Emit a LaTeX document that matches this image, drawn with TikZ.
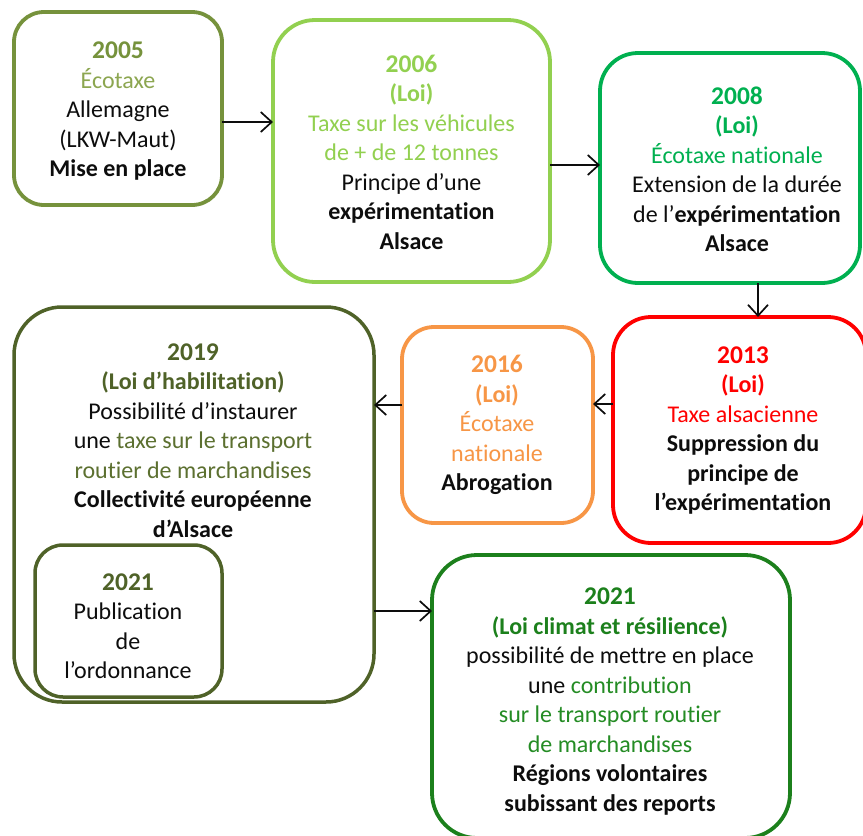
\documentclass[tikz,border=0pt]{standalone}
\usepackage{fontspec}
\setmainfont{Carlito}[Ligatures=NoCommon, RawFeature={-liga;-clig;-dlig;-calt}]
\usetikzlibrary{arrows.meta}
\definecolor{cA}{RGB}{118,146,60}
\definecolor{cAl}{RGB}{140,166,80}
\definecolor{cB}{RGB}{146,208,80}
\definecolor{cC}{RGB}{0,176,80}
\definecolor{cD}{RGB}{255,0,0}
\definecolor{cE}{RGB}{247,150,70}
\definecolor{cF}{RGB}{79,98,40}
\definecolor{cFt}{RGB}{92,112,48}
\definecolor{cG}{RGB}{28,128,28}
\definecolor{cGt}{RGB}{36,140,36}
\definecolor{ink}{RGB}{13,13,13}
\newcommand{\yr}[1]{{\fontsize{25.5}{29.5}\selectfont\bfseries #1}}
\begin{document}
\begin{tikzpicture}[x=1pt,y=-1pt,
  box/.style={draw, line width=3.8pt, inner sep=0pt, outer sep=0pt, fill=none},
  txt/.style={align=center, font=\fontsize{24}{29.5}\selectfont, inner sep=0pt, text=ink},
  arr/.style={line width=1.7pt, draw=ink, -{Straight Barb[length=11pt,width=20pt]}}]
\useasboundingbox (0,0) rectangle (863,836);
\clip (0,0) rectangle (863,836);
\fill[white] (0,0) rectangle (863,836);
% boxes
\node[box, draw=cA, minimum width=208pt, minimum height=193pt, rounded corners=30pt] (b2005) at (118,108.5) {};
\node[box, draw=cB, minimum width=277pt, minimum height=262pt, rounded corners=42pt] (b2006) at (411.5,151) {};
\node[box, draw=cC, minimum width=260pt, minimum height=230pt, rounded corners=38pt] (b2008) at (730,168) {};
\node[box, draw=cD, minimum width=253pt, minimum height=226pt, rounded corners=38pt] (b2013) at (739.5,430) {};
\node[box, draw=cE, minimum width=191pt, minimum height=196pt, rounded corners=32pt] (b2016) at (497.5,425) {};
\node[box, draw=cF, line width=3.5pt, minimum width=360pt, minimum height=395pt, rounded corners=48pt] (b2019) at (194,504.5) {};
\node[box, draw=cF, line width=3.5pt, minimum width=187pt, minimum height=152pt, rounded corners=28pt] (b2021a) at (128.5,621) {};
\node[box, draw=cG, minimum width=358pt, minimum height=283pt, rounded corners=45pt] (b2021b) at (611,696.5) {};
% texts
\node[txt] (t2005) at (118,111.5) {\textcolor{cA}{\yr{2005}}\\ \textcolor{cAl}{Écotaxe}\\ Allemagne\\ (LKW-Maut)\\ \textbf{Mise en place}};
\node[txt] (t2006) at (411.5,152) {\textcolor{cB}{\yr{2006}}\\ \textcolor{cB}{\textbf{(Loi)}}\\ \textcolor{cB}{Taxe sur les véhicules}\\ \textcolor{cB}{de + de 12 tonnes}\\ Principe d’une\\ \textbf{expérimentation}\\ \textbf{Alsace}};
\node[txt] (t2008) at (737,169.5) {\textcolor{cC}{\yr{2008}}\\ \textcolor{cC}{\textbf{(Loi)}}\\ \textcolor{cC}{Écotaxe nationale}\\ Extension de la durée\\ de l’\textbf{expérimentation}\\ \textbf{Alsace}};
\node[txt] (t2013) at (743,430.5) {\textcolor{cD}{\yr{2013}}\\ \textcolor{cD}{\textbf{(Loi)}}\\ \textcolor{cD}{Taxe alsacienne}\\ \textbf{Suppression du}\\ \textbf{principe de}\\ \textbf{l’expérimentation}};
\node[txt] (t2016) at (497,425) {\textcolor{cE}{\yr{2016}}\\ \textcolor{cE}{\textbf{(Loi)}}\\ \textcolor{cE}{Écotaxe}\\ \textcolor{cE}{nationale}\\ \textbf{Abrogation}};
\node[txt] (t2019) at (193,440.5) {\textcolor{cF}{\yr{2019}}\\ \textcolor{cF}{\textbf{(Loi d’habilitation)}}\\ Possibilité d’instaurer\\ une \textcolor{cFt}{taxe sur le transport}\\ \textcolor{cFt}{routier de marchandises}\\ \textbf{Collectivité européenne}\\ \textbf{d’Alsace}};
\node[txt] (t2021a) at (128,626) {\textcolor{cF}{\yr{2021}}\\ Publication\\ de\\ l’ordonnance};
\node[txt] (t2021b) at (610,701.5) {\textcolor{cG}{\yr{2021}}\\ \textcolor{cG}{\textbf{(Loi climat et résilience)}}\\ possibilité de mettre en place\\ une \textcolor{cGt}{contribution}\\ \textcolor{cGt}{sur le transport routier}\\ \textcolor{cGt}{de marchandises}\\ \textbf{Régions volontaires}\\ \textbf{subissant des reports}};
% connector levels
\coordinate (ya) at (0,122);
\coordinate (yb) at (0,165);
\coordinate (xc) at (758,0);
\coordinate (yd) at (0,404);
\coordinate (ye) at (0,405);
\coordinate (yf) at (0,611);
\draw[arr] (b2005.east |- ya) -- (b2006.west |- ya);
\draw[arr] (b2006.east |- yb) -- (b2008.west |- yb);
\draw[arr] (b2008.south -| xc) -- (b2013.north -| xc);
\draw[arr] (b2013.west |- yd) -- (b2016.east |- yd);
\draw[arr] (b2016.west |- ye) -- (b2019.east |- ye);
\draw[arr] (b2019.east |- yf) -- (b2021b.west |- yf);
\end{tikzpicture}
\end{document}
